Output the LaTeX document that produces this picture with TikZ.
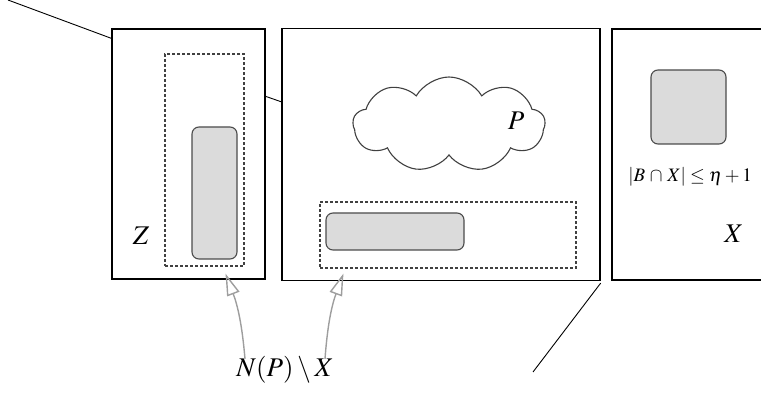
\documentclass[tikz,border=0pt]{standalone}
\usepackage{mathptmx}
\usetikzlibrary{calc}
\usetikzlibrary{arrows.meta}
\usetikzlibrary{shapes.symbols}

\tikzset{
  frame/.style={draw, line width=1.3pt, inner sep=0},
  dashbox/.style={draw=black!75, dash pattern=on 3pt off 2pt, line width=1.1pt, inner sep=0},
  blob/.style={draw=black!70, fill=black!14, rounded corners=7pt, line width=1.1pt, inner sep=0},
  pointer/.style={draw=black!38, line width=1.4pt, -{Triangle[open, length=22pt, width=13pt]}},
  big/.style={font=\fontsize{27}{30}\selectfont},
}

\begin{document}
\begin{tikzpicture}[x=1pt, y=-1pt]
\useasboundingbox (0,0) rectangle (761,395);
% the three pieces
\node[frame, minimum width=153pt, minimum height=250pt] (zbox) at (188.5,154) {};
\node[frame, minimum width=318pt, minimum height=252pt] (pbox) at (441,154.5) {};
\draw[line width=1.3pt] (765,29) -- (612,29) -- (612,280) -- (765,280);
% zoom lines
\coordinate (tl) at (8,0);
\coordinate (br) at (533,372);
\draw[line width=.9pt] (tl) -- ([yshift=-10pt]zbox.north west);
\draw[line width=.9pt] ([yshift=-68pt]zbox.north east) -- ([yshift=-74pt]pbox.north west);
\draw[line width=.9pt] ([yshift=-2pt]pbox.south east) -- (br);
% Z
\node[dashbox, minimum width=79pt, minimum height=212pt] (zdash) at (204.5,160) {};
\node[blob, minimum width=45pt, minimum height=132pt] (zblob) at (214.5,193) {};
\node[big] (zlab) at (141,236) {$Z$};
% P
\node[cloud, cloud puffs=9, cloud puff arc=120, draw=black!75, line width=1.1pt,
      minimum width=192pt, minimum height=95pt, inner sep=0] (cl) at (449,124.5) {};
\node[big] (plab) at (516,121) {$P$};
\node[dashbox, minimum width=256pt, minimum height=66pt] (pdash) at (448,235) {};
\node[blob, minimum width=138pt, minimum height=37pt] (pblob) at (395,231.5) {};
% X
\node[blob, minimum width=75pt, minimum height=74pt] (xblob) at (688.5,107) {};
\node[font=\fontsize{19}{22}\selectfont] (bound) at (690,177) {$|B\,\cap\,X|\leq\eta+1$};
\node[big] (xlab) at (734,234) {$X$};
% neighbourhood
\node[big] (npx) at (285,370) {$N(P)\setminus X$};
\draw[pointer] ([xshift=-40pt,yshift=-6pt]npx.north) to[bend right=8] ([xshift=21pt,yshift=-7pt]zdash.south);
\draw[pointer] ([xshift=40pt,yshift=-6pt]npx.north) to[bend left=8] ([xshift=24pt,yshift=-5pt]pdash.south west);
\end{tikzpicture}
\end{document}
